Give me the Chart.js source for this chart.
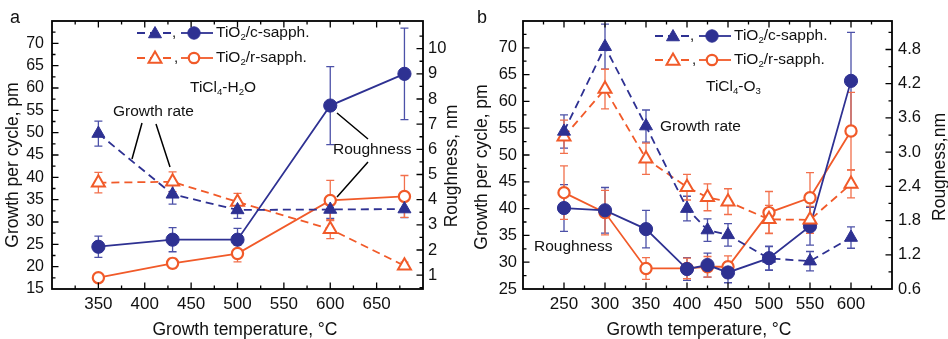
<!DOCTYPE html>
<html>
<head>
<meta charset="utf-8">
<title>TiO2 growth per cycle and roughness</title>
<script src="https://cdn.jsdelivr.net/npm/chart.js@4.4.1/dist/chart.umd.min.js"></script>
<style>
  body { margin: 0; background: #fff; }
  #wrap { position: relative; width: 948px; height: 339px; }
  canvas { position: absolute; top: 0; }
</style>
</head>
<body>
<div id="wrap">
  <canvas id="panelA" width="474" height="339" style="left:0"></canvas>
  <canvas id="panelB" width="474" height="339" style="left:474px"></canvas>
</div>
<script>
const BLUE = '#2e3192', BLUE_ERR = '#4c51a8';
const RED = '#f15a29', RED_ERR = '#f2704c';
const FONT = "'Liberation Sans', Arial, sans-serif";
Chart.defaults.font.family = FONT;
Chart.defaults.color = '#111';

// panel a: TiCl4-H2O
const tempA = [350, 430, 500, 600, 680];
const growthCA = [49.8, 36.2, 32.7, 32.8, 32.9];
const growthCAErr = [2.8, 2.2, 1.9, 2.0, 1.9];
const growthRA = [38.8, 39.0, 34.5, 28.4, 20.2];
const growthRAErr = [2.3, 2.2, 1.9, 2.1, 0.8];
const roughCA = [2.13, 2.41, 2.41, 7.74, 9.0];
const roughCAErr = [0.42, 0.48, 0.45, 1.55, 1.82];
const roughRA = [0.9, 1.47, 1.86, 3.97, 4.13];
const roughRAErr = [0.1, 0.2, 0.33, 0.8, 0.83];

// panel b: TiCl4-O3
const tempB = [250, 300, 350, 400, 425, 450, 500, 550, 600];
const growthCB = [54.4, 70.2, 55.4, 40.0, 36.0, 35.1, 30.7, 30.2, 34.6];
const growthCBErr = [3.1, 4.2, 3.0, 2.3, 2.1, 2.1, 2.2, 1.8, 2.0];
const growthRB = [53.4, 62.3, 49.3, 44.0, 42.1, 41.3, 38.0, 37.9, 44.6];
const growthRBErr = [3.1, 3.7, 2.9, 2.4, 2.5, 2.4, 2.6, 2.5, 2.6];
const roughCB = [2.02, 1.98, 1.65, 0.95, 1.02, 0.89, 1.14, 1.7, 4.25];
const roughCBErr = [0.41, 0.4, 0.33, 0.2, 0.21, 0.18, 0.21, 0.33, 0.85];
const roughRB = [2.29, 1.94, 0.96, 0.96, 0.99, 0.99, 1.94, 2.2, 3.37];
const roughRBErr = [0.47, 0.39, 0.19, 0.18, 0.18, 0.19, 0.37, 0.44, 0.68];

// tick labels
const xTicksA = [350, 400, 450, 500, 550, 600, 650];
const yTicksA = [15, 20, 25, 30, 35, 40, 45, 50, 55, 60, 65, 70];
const y1TicksA = [1, 2, 3, 4, 5, 6, 7, 8, 9, 10];
const xTicksB = [250, 300, 350, 400, 450, 500, 550, 600];
const yTicksB = [25, 30, 35, 40, 45, 50, 55, 60, 65, 70];
const y1TicksB = [0.6, 1.2, 1.8, 2.4, 3.0, 3.6, 4.2, 4.8];

const pts = (xs, ys) => xs.map((x, i) => ({ x, y: ys[i] }));

function growthSet(xs, ys, errs, color, errColor, hollow) {
  return {
    data: pts(xs, ys), errors: errs, errColor, yAxisID: 'y',
    borderColor: color, borderWidth: 1.8, borderDash: [8, 5],
    pointStyle: 'triangle', pointRadius: 7.5,
    pointBorderWidth: hollow ? 2 : 1,
    pointBackgroundColor: hollow ? '#fff' : color, pointBorderColor: color
  };
}

function roughSet(xs, ys, errs, color, errColor, hollow) {
  return {
    data: pts(xs, ys), errors: errs, errColor, yAxisID: 'y1',
    borderColor: color, borderWidth: 1.8,
    pointStyle: 'circle', pointRadius: hollow ? 5.6 : 6.6,
    pointBorderWidth: hollow ? 2.2 : 1,
    pointBackgroundColor: hollow ? '#fff' : color, pointBorderColor: color
  };
}

function axis(min, max, tickVals, fmt, size, pad, key) {
  return {
    type: 'linear', min, max,
    grid: { display: false, drawTicks: false },
    border: { display: false },
    afterBuildTicks: s => { s.ticks = tickVals.map(v => ({ value: v })); },
    afterFit: s => { s[key[0]] = key[1]; },
    ticks: { padding: pad, autoSkip: false, maxRotation: 0, font: { size }, callback: fmt }
  };
}

// error bars, drawn under the markers
const errorBars = {
  id: 'errorBars',
  beforeDatasetsDraw(chart) {
    const ctx = chart.ctx;
    chart.data.datasets.forEach((ds, i) => {
      const meta = chart.getDatasetMeta(i);
      const ys = chart.scales[ds.yAxisID];
      ctx.save();
      ctx.strokeStyle = ds.errColor;
      ctx.lineWidth = 1.3;
      meta.data.forEach((pt, j) => {
        const v = ds.data[j].y, e = ds.errors[j];
        const y1 = ys.getPixelForValue(v + e), y2 = ys.getPixelForValue(v - e);
        ctx.beginPath();
        ctx.moveTo(pt.x, y1); ctx.lineTo(pt.x, y2);
        ctx.moveTo(pt.x - 4, y1); ctx.lineTo(pt.x + 4, y1);
        ctx.moveTo(pt.x - 4, y2); ctx.lineTo(pt.x + 4, y2);
        ctx.stroke();
      });
      ctx.restore();
    });
  }
};

// box frame and inward ticks with minor ticks
function tickMarks(scale, draw) {
  const vals = scale.ticks.map(t => t.value);
  const step = vals[1] - vals[0];
  const inRange = v => v > scale.min + 1e-9 && v < scale.max - 1e-9;
  const all = [[vals[0] - step / 2, 3.5]];
  vals.forEach(v => { all.push([v, 6.5]); all.push([v + step / 2, 3.5]); });
  all.forEach(([v, len]) => { if (inRange(v)) draw(scale.getPixelForValue(v), len); });
}

const frame = {
  id: 'frame',
  afterDraw(chart) {
    const { ctx, chartArea: a, scales } = chart;
    ctx.save();
    ctx.strokeStyle = '#000';
    ctx.lineWidth = 1.3;
    ctx.beginPath();
    tickMarks(scales.x, (p, l) => {
      ctx.moveTo(p, a.bottom); ctx.lineTo(p, a.bottom - l);
      ctx.moveTo(p, a.top); ctx.lineTo(p, a.top + l);
    });
    tickMarks(scales.y, (p, l) => { ctx.moveTo(a.left, p); ctx.lineTo(a.left + l, p); });
    tickMarks(scales.y1, (p, l) => { ctx.moveTo(a.right, p); ctx.lineTo(a.right - l, p); });
    ctx.stroke();
    ctx.lineWidth = 1.8;
    ctx.strokeRect(a.left, a.top, a.right - a.left, a.bottom - a.top);
    ctx.restore();
  }
};

function richText(ctx, x, y, parts, size) {
  ctx.textBaseline = 'middle';
  ctx.textAlign = 'left';
  let cx = x;
  parts.forEach(([s, sub]) => {
    const fs = sub ? size * 0.62 : size;
    ctx.font = fs + 'px ' + FONT;
    ctx.fillText(s, cx, sub ? y + size * 0.3 : y);
    cx += ctx.measureText(s).width;
  });
}

function triangle(ctx, x, y, r, color, hollow) {
  const c = Math.cos(Math.PI / 6) * r;
  ctx.beginPath();
  ctx.moveTo(x, y - r); ctx.lineTo(x + c, y + r / 2); ctx.lineTo(x - c, y + r / 2);
  ctx.closePath();
  ctx.fillStyle = hollow ? '#fff' : color;
  ctx.fill();
  ctx.lineWidth = hollow ? 2 : 1;
  ctx.strokeStyle = color;
  ctx.stroke();
}

function circle(ctx, x, y, r, color, hollow) {
  ctx.beginPath();
  ctx.arc(x, y, r, 0, Math.PI * 2);
  ctx.fillStyle = hollow ? '#fff' : color;
  ctx.fill();
  ctx.lineWidth = hollow ? 2.2 : 1;
  ctx.strokeStyle = color;
  ctx.stroke();
}

function legendRow(ctx, x, y, color, hollow, parts) {
  ctx.strokeStyle = color;
  ctx.lineWidth = 1.8;
  ctx.setLineDash([8, 5]);
  ctx.beginPath(); ctx.moveTo(x, y); ctx.lineTo(x + 34, y); ctx.stroke();
  ctx.setLineDash([]);
  triangle(ctx, x + 18, y + 1, 7.5, color, hollow);
  ctx.fillStyle = '#111';
  ctx.font = '15px ' + FONT;
  ctx.textBaseline = 'middle';
  ctx.fillText(',', x + 37, y);
  ctx.strokeStyle = color;
  ctx.lineWidth = 1.8;
  ctx.beginPath(); ctx.moveTo(x + 44, y); ctx.lineTo(x + 76, y); ctx.stroke();
  circle(ctx, x + 57, y, hollow ? 5.2 : 6.2, color, hollow);
  ctx.fillStyle = '#111';
  richText(ctx, x + 79, y, parts, 15.5);
}

function rotatedText(ctx, text, x, y, size) {
  ctx.save();
  ctx.translate(x, y);
  ctx.rotate(-Math.PI / 2);
  ctx.font = size + 'px ' + FONT;
  ctx.textAlign = 'center';
  ctx.textBaseline = 'middle';
  ctx.fillText(text, 0, 0);
  ctx.restore();
}

// panel letter, axis titles, legend and labels
function notes(cfg) {
  return {
    id: 'notes',
    afterDraw(chart) {
      const { ctx, chartArea: a } = chart;
      ctx.save();
      ctx.fillStyle = '#111';
      ctx.font = '18px ' + FONT;
      ctx.textBaseline = 'middle';
      ctx.fillText(cfg.letter, cfg.letterPos[0], cfg.letterPos[1]);
      rotatedText(ctx, cfg.leftTitle, cfg.leftPos[0], cfg.leftPos[1], 17.5);
      rotatedText(ctx, cfg.rightTitle, cfg.rightPos[0], cfg.rightPos[1], 17.5);
      ctx.font = '17.5px ' + FONT;
      ctx.textAlign = 'center';
      ctx.fillText(cfg.xTitle, cfg.xPos[0], cfg.xPos[1]);
      legendRow(ctx, a.left + cfg.legend[0], a.top + cfg.legend[1], BLUE, false, [['TiO', 0], ['2', 1], ['/c-sapph.', 0]]);
      legendRow(ctx, a.left + cfg.legend[0], a.top + cfg.legend[2], RED, true, [['TiO', 0], ['2', 1], ['/r-sapph.', 0]]);
      ctx.fillStyle = '#111';
      richText(ctx, a.left + cfg.process[0], a.top + cfg.process[1], cfg.process[2], 15.5);
      cfg.labels.forEach(([t, dx, dy]) => richText(ctx, a.left + dx, a.top + dy, [[t, 0]], 15.5));
      ctx.strokeStyle = '#000';
      ctx.lineWidth = 1.5;
      ctx.beginPath();
      cfg.pointers.forEach(([x1, y1, x2, y2]) => {
        ctx.moveTo(a.left + x1, a.top + y1); ctx.lineTo(a.left + x2, a.top + y2);
      });
      ctx.stroke();
      ctx.restore();
    }
  };
}

function makeChart(id, d, sc, cfg) {
  return new Chart(document.getElementById(id), {
    type: 'line',
    data: {
      datasets: [
        growthSet(d.t, d.gc, d.gcErr, BLUE, BLUE_ERR, false),
        growthSet(d.t, d.gr, d.grErr, RED, RED_ERR, true),
        roughSet(d.t, d.rc, d.rcErr, BLUE, BLUE_ERR, false),
        roughSet(d.t, d.rr, d.rrErr, RED, RED_ERR, true)
      ]
    },
    options: {
      responsive: false,
      animation: false,
      layout: { padding: { top: 21, left: 0, right: 0, bottom: 0 } },
      plugins: { legend: { display: false }, tooltip: { enabled: false } },
      elements: { line: { tension: 0 } },
      scales: sc
    },
    plugins: [errorBars, frame, notes(cfg)]
  });
}

makeChart('panelA',
  { t: tempA, gc: growthCA, gcErr: growthCAErr, gr: growthRA, grErr: growthRAErr,
    rc: roughCA, rcErr: roughCAErr, rr: roughRA, rrErr: roughRAErr },
  {
    x: axis(300, 700, xTicksA, v => v, 17, 5, ['height', 50]),
    y: Object.assign(axis(15, 75, yTicksA, v => v, 16, 8, ['width', 52]), { position: 'left' }),
    y1: Object.assign(axis(0.45, 11.1, y1TicksA, v => v, 16.5, 5, ['width', 51]), { position: 'right' })
  },
  {
    letter: 'a', letterPos: [10, 18],
    leftTitle: 'Growth per cycle, pm', leftPos: [13, 165],
    rightTitle: 'Roughness, nm', rightPos: [452, 166],
    xTitle: 'Growth temperature, °C', xPos: [245, 330],
    legend: [85, 12, 37],
    process: [138, 67, [['TiCl', 0], ['4', 1], ['-H', 0], ['2', 1], ['O', 0]]],
    labels: [['Growth rate', 61, 91], ['Roughness', 281, 129]],
    pointers: [[90, 102, 80, 138], [104, 103, 118, 146], [285, 92, 316, 118], [316, 141, 285, 176]]
  });

makeChart('panelB',
  { t: tempB, gc: growthCB, gcErr: growthCBErr, gr: growthRB, grErr: growthRBErr,
    rc: roughCB, rcErr: roughCBErr, rr: roughRB, rrErr: roughRBErr },
  {
    x: axis(200, 650, xTicksB, v => v, 17, 5, ['height', 50]),
    y: Object.assign(axis(25, 75, yTicksB, v => v, 16.5, 6, ['width', 49]), { position: 'left' }),
    y1: Object.assign(axis(0.6, 5.3, y1TicksB, v => v.toFixed(1), 16.5, 6, ['width', 56]), { position: 'right' })
  },
  {
    letter: 'b', letterPos: [3, 18],
    leftTitle: 'Growth per cycle, pm', leftPos: [8, 167],
    rightTitle: 'Rougness,nm', rightPos: [466, 167],
    xTitle: 'Growth temperature, °C', xPos: [225, 330],
    legend: [132, 15, 39],
    process: [183, 66, [['TiCl', 0], ['4', 1], ['-O', 0], ['3', 1]]],
    labels: [['Growth rate', 137, 106], ['Roughness', 11, 226]],
    pointers: []
  });
</script>
</body>
</html>
